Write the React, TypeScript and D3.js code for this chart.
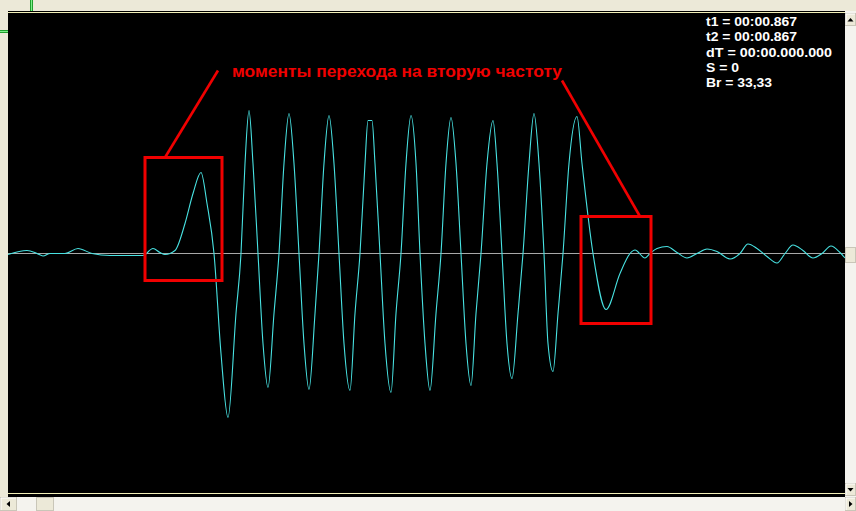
import * as d3 from 'd3';

// ── Waveform samples (time in sample units, amplitude in screen units, 0 = baseline) ──
const waveT = [
  8, 27, 37, 43, 50, 65, 78, 92, 110, 143, 153, 160, 165, 175, 185, 193, 201, 207, 214, 221, 228, 236, 241,
  245, 249, 253, 258, 263, 268, 274, 279, 284, 289, 294, 299, 304, 309, 315, 319, 324, 329, 334, 339, 344,
  350, 355, 360, 365, 368, 372, 375, 380, 385, 391, 396, 401, 406, 411, 416, 420, 425, 430, 436, 441, 446,
  451, 456, 461, 466, 471, 476, 481, 487, 493, 497, 502, 507, 512, 518, 523, 529, 534, 539, 544, 548, 553,
  558, 563, 569, 577, 582, 593, 606, 620, 630, 635, 645, 650, 657, 667, 677, 687, 697, 707, 717, 730, 740,
  748, 757, 767, 777, 785, 793, 803, 813, 822, 831, 840, 845,
];
const waveV = [
  -1, 3, 0, -2.5, 0, 0, 5, 0, -2, -2, 5, 1, -1, 3, 30, 60, 81, 50, 0, -100, -164, -60, 0,
  90, 143, 90, 0, -90, -134, -60, 0, 90, 140, 90, 0, -90, -136, -60, 0, 90, 138, 90, 0, -90,
  -137, -60, 0, 90, 133, 133, 90, 0, -90, -139, -60, 0, 90, 138, 90, 0, -90, -137, -60, 0, 90,
  136, 90, 0, -90, -132, -60, 0, 90, 133, 90, 0, -90, -125, -60, 0, 90, 140, 90, 0, -90, -118,
  -60, 0, 90, 137, 90, 0, -56, -20, 0, 3.5, -4.5, 0, 5, 7, 1, -4.5, 0, 4.5, 2, -5.5, 0,
  9.5, 5, -3, -9.5, 0, 8.5, 3, -4.5, 0, 7.5, 1, -4.5,
];

// ── Annotation ──
const noteText = 'моменты перехода на вторую частоту';
// marked regions [t0, t1, v0, v1]
const boxT0 = [145, 581];
const boxT1 = [222, 651];
const boxTop = [96, 37];
const boxBottom = [-27, -70];
// leader lines: from text ends to box tops
const leadT0 = [218, 562];
const leadV0 = [183, 173];
const leadT1 = [165, 640];
const leadV1 = [96, 37];

// ── Readout ──
const infoLines = ['t1 = 00:00.867', 't2 = 00:00.867', 'dT = 00:00.000.000', 'S = 0', 'Br = 33,33'];
const infoWidths = [91, 91, 126, 33, 66];

const W = 856;
const H = 511;
const plot = { left: 8, right: 845, top: 14, bottom: 493 };

export default function App() {
  const x = d3.scaleLinear().domain([8, 845]).range([plot.left, plot.right]);
  const y = d3.scaleLinear().domain([-240, 240]).range([plot.bottom + 0.5, plot.top - 0.5]);

  const pts = waveT.map((t, i) => [t, waveV[i]] as [number, number]);
  const line = d3
    .line<[number, number]>()
    .x(d => x(d[0]))
    .y(d => y(d[1]))
    .curve(d3.curveMonotoneX);

  const face = '#ece9d8';
  const track = '#f4f3ee';

  const arrowBtn = (bx: number, by: number, bw: number, bh: number, dir: 'up' | 'down' | 'left' | 'right') => {
    const cx = bx + bw / 2;
    const cy = by + bh / 2;
    let tri = '';
    if (dir === 'up') tri = `M${cx - 3},${cy + 2}L${cx + 3},${cy + 2}L${cx},${cy - 1.5}Z`;
    if (dir === 'down') tri = `M${cx - 3},${cy - 1.5}L${cx + 3},${cy - 1.5}L${cx},${cy + 2}Z`;
    if (dir === 'left') tri = `M${cx + 1.5},${cy - 3}L${cx + 1.5},${cy + 3}L${cx - 2},${cy}Z`;
    if (dir === 'right') tri = `M${cx - 1.5},${cy - 3}L${cx - 1.5},${cy + 3}L${cx + 2},${cy}Z`;
    return (
      <g>
        <rect x={bx + 0.5} y={by + 0.5} width={bw - 1} height={bh - 1} fill={face} stroke="#c9c6b8" />
        <line x1={bx + 1} y1={by + 1} x2={bx + bw - 1} y2={by + 1} stroke="#fff" />
        <line x1={bx + 1} y1={by + 1} x2={bx + 1} y2={by + bh - 1} stroke="#fff" />
        <path d={tri} fill="#000" />
      </g>
    );
  };

  return (
    <div style={{ position: 'fixed', left: 0, top: 0 }}>
      <svg width={W} height={H} viewBox={`0 0 ${W} ${H}`} style={{ display: 'block' }}>
        <defs>
          <clipPath id="plotClip">
            <rect x={plot.left} y={plot.top} width={plot.right - plot.left} height={plot.bottom - plot.top} />
          </clipPath>
        </defs>

        {/* window chrome */}
        <rect x={0} y={0} width={W} height={H} fill={face} />
        <rect x={30} y={0} width={3} height={11} fill="#1f9e2c" />
        <rect x={31} y={0} width={1} height={11} fill="#7cf08a" />
        <rect x={0} y={30} width={8} height={3} fill="#1f9e2c" />
        <rect x={0} y={31} width={8} height={1} fill="#7cf08a" />

        {/* scope panel */}
        <rect x={plot.left} y={11} width={plot.right - plot.left} height={486} fill="#000" />
        <line x1={plot.left} x2={plot.right} y1={12.5} y2={12.5} stroke="#f3f0b8" />
        <line x1={plot.left} x2={plot.right} y1={493.5} y2={493.5} stroke="#f3f0b8" />

        {/* vertical scrollbar */}
        <rect x={845} y={11} width={11} height={486} fill={track} />
        {arrowBtn(845, 13, 11, 13, 'up')}
        <rect x={845.5} y={247.5} width={10} height={15} fill={face} stroke="#c9c6b8" />
        {arrowBtn(845, 483, 11, 13, 'down')}

        {/* horizontal scrollbar */}
        <rect x={0} y={497} width={W} height={14} fill={track} />
        {arrowBtn(0, 497, 17, 14, 'left')}
        <rect x={36.5} y={497.5} width={17} height={13} fill={face} stroke="#c9c6b8" />
        {arrowBtn(845, 497, 11, 14, 'right')}

        <g clipPath="url(#plotClip)">
          {/* baseline */}
          <line x1={plot.left} x2={plot.right} y1={y(0)} y2={y(0)} stroke="#a8a8a8" strokeWidth={1} />
          {/* signal */}
          <path d={line(pts) ?? ''} fill="none" stroke="#48e2e2" strokeWidth={1.1} strokeLinejoin="round" />

          {/* marked regions */}
          {boxT0.map((t0, i) => (
            <rect
              key={i}
              x={x(t0)}
              y={y(boxTop[i])}
              width={x(boxT1[i]) - x(t0)}
              height={y(boxBottom[i]) - y(boxTop[i])}
              fill="none"
              stroke="#f00000"
              strokeWidth={3}
            />
          ))}
          {leadT0.map((t0, i) => (
            <line
              key={i}
              x1={x(t0)}
              y1={y(leadV0[i])}
              x2={x(leadT1[i])}
              y2={y(leadV1[i])}
              stroke="#f00000"
              strokeWidth={2.6}
            />
          ))}
        </g>

        <text
          x={232}
          y={77}
          fill="#f00000"
          fontFamily="'Liberation Sans', Arial, sans-serif"
          fontWeight="bold"
          fontSize={16.5}
          textLength={330}
          lengthAdjust="spacingAndGlyphs"
        >
          {noteText}
        </text>

        {infoLines.map((s, i) => (
          <text
            key={i}
            x={706}
            y={26 + i * 15.3}
            fill="#fff"
            fontFamily="'Liberation Sans', Arial, sans-serif"
            fontWeight="bold"
            fontSize={13.5}
            textLength={infoWidths[i]}
            lengthAdjust="spacingAndGlyphs"
          >
            {s}
          </text>
        ))}
      </svg>
    </div>
  );
}
